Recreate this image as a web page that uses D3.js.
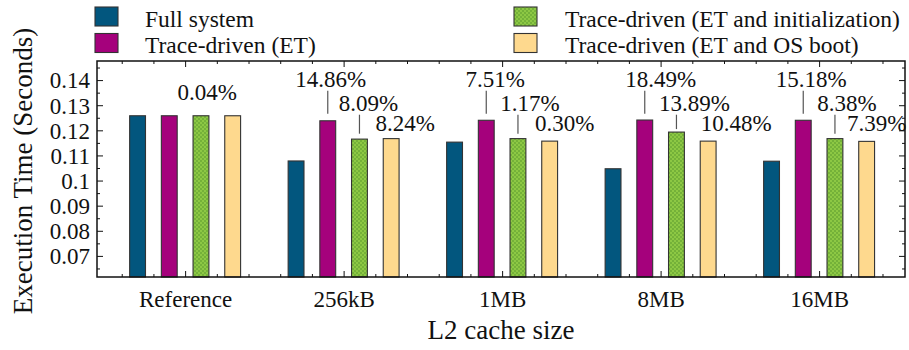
<!DOCTYPE html>
<html>
<head>
<meta charset="utf-8">
<script src="https://cdn.jsdelivr.net/npm/d3@7"></script>
<style>
  html, body { margin: 0; padding: 0; background: #fff; }
  svg { display: block; font-family: "Liberation Serif", "Times New Roman", serif; }
</style>
</head>
<body>
<svg id="chart" width="909" height="350"></svg>
<script>
// ---------- data ----------
const categories = ["Reference", "256kB", "1MB", "8MB", "16MB"];
const seriesNames = [
  "Full system",
  "Trace-driven (ET)",
  "Trace-driven (ET and initialization)",
  "Trace-driven (ET and OS boot)"
];
const fullSystem = [0.1258, 0.1078, 0.1153, 0.1047, 0.1077];
const traceET    = [0.1258, 0.1238, 0.1240, 0.1241, 0.1240];
const traceInit  = [0.1258, 0.1165, 0.1167, 0.1193, 0.1167];
const traceBoot  = [0.1258, 0.1167, 0.1157, 0.1157, 0.1156];
const referenceDiff = "0.04%";
const diffET   = ["14.86%", "7.51%", "18.49%", "15.18%"];
const diffInit = ["8.09%", "1.17%", "13.89%", "8.38%"];
const diffBoot = ["8.24%", "0.30%", "10.48%", "7.39%"];
const yTicks = [0.07, 0.08, 0.09, 0.10, 0.11, 0.12, 0.13, 0.14];
const yTickLabels = ["0.07", "0.08", "0.09", "0.1", "0.11", "0.12", "0.13", "0.14"];

// ---------- style / layout ----------
const colors = ["#02567e", "#a5017c", "url(#checkGreen)", "#fed98e"];
const legendColors = colors;
const M = { left: 97, right: 905, top: 61, bottom: 277 };
const labelRows = [0.13737, 0.12781, 0.11985];   // label baselines (data units)
const refLabelY = 0.13207;
const labelDx = [ // horizontal nudge of percentage labels (px), per group, per series
  [3, 9, 14], [9, 12, 15], [16, 18, 28], [8, 12, 10]
];

const svg = d3.select("#chart");
const defs = svg.append("defs");
const pat = defs.append("pattern").attr("id", "checkGreen")
  .attr("patternUnits", "userSpaceOnUse").attr("width", 4).attr("height", 4);
pat.append("rect").attr("width", 4).attr("height", 4).attr("fill", "#8dc844");
pat.append("rect").attr("width", 2).attr("height", 2).attr("fill", "#74b139");
pat.append("rect").attr("x", 2).attr("y", 2).attr("width", 2).attr("height", 2).attr("fill", "#74b139");

const nG = categories.length, perG = 5;
const x = d3.scaleLinear().domain([-1.28, nG * perG - 0.79]).range([M.left, M.right]);
const y = d3.scaleLinear().domain([0.0616, 0.1476]).range([M.bottom, M.top]);
const slot = (g, s) => g * perG + s;
const bw = x(0.25) - x(-0.25);

const series = [fullSystem, traceET, traceInit, traceBoot];

// bars
series.forEach((vals, s) => {
  svg.append("g").selectAll("rect").data(vals).join("rect")
    .attr("x", (d, g) => x(slot(g, s)) - bw / 2)
    .attr("y", d => y(d))
    .attr("width", bw)
    .attr("height", d => M.bottom - y(d))
    .attr("fill", colors[s])
    .attr("stroke", "#333")
    .attr("stroke-width", 1.1);
});

// axes ticks (inward)
const majorX = d3.range(nG).map(g => slot(g, 1.5));
const minorX = d3.range(-0.5, nG * perG, 1).filter(v => !majorX.some(m => Math.abs(m - v) < 1e-6));
const minorY = d3.range(0.065, 0.1476, 0.01);

const axisG = svg.append("g");
const bottomAxis = d3.axisBottom(x).tickValues(majorX).tickSize(-6).tickFormat((d, i) => categories[i]).tickPadding(14);
const gB = axisG.append("g").attr("transform", `translate(0,${M.bottom})`).call(bottomAxis);
const gBm = axisG.append("g").attr("transform", `translate(0,${M.bottom})`).call(d3.axisBottom(x).tickValues(minorX).tickSize(-3).tickFormat(""));
const gT = axisG.append("g").attr("transform", `translate(0,${M.top})`).call(d3.axisTop(x).tickValues(majorX).tickSize(-6).tickFormat(""));
const gTm = axisG.append("g").attr("transform", `translate(0,${M.top})`).call(d3.axisTop(x).tickValues(minorX).tickSize(-3).tickFormat(""));
const gL = axisG.append("g").attr("transform", `translate(${M.left},0)`)
  .call(d3.axisLeft(y).tickValues(yTicks).tickSize(-6).tickPadding(7).tickFormat((d, i) => yTickLabels[i]));
const gLm = axisG.append("g").attr("transform", `translate(${M.left},0)`).call(d3.axisLeft(y).tickValues(minorY).tickSize(-3).tickFormat(""));
const gR = axisG.append("g").attr("transform", `translate(${M.right},0)`).call(d3.axisRight(y).tickValues(yTicks).tickSize(-6).tickFormat(""));
const gRm = axisG.append("g").attr("transform", `translate(${M.right},0)`).call(d3.axisRight(y).tickValues(minorY).tickSize(-3).tickFormat(""));

axisG.selectAll(".domain").remove();
axisG.selectAll(".tick line").attr("stroke", "#111").attr("stroke-width", 1);
axisG.selectAll(".tick text").attr("fill", "#111").style("font-size", "23px")
  .style("font-family", "'Liberation Serif', 'Times New Roman', serif");
gL.selectAll(".tick text").attr("dy", "0.34em");
gB.selectAll(".tick text").attr("dy", "0.71em");

// frame
svg.append("rect").attr("x", M.left).attr("y", M.top)
  .attr("width", M.right - M.left).attr("height", M.bottom - M.top)
  .attr("fill", "none").attr("stroke", "#111").attr("stroke-width", 1.5);

// percentage labels
const lab = svg.append("g").attr("fill", "#111").style("font-size", "23px");
lab.append("text").attr("x", x(slot(0, 2.2))).attr("y", y(refLabelY))
  .attr("text-anchor", "middle").text(referenceDiff);
[diffET, diffInit, diffBoot].forEach((arr, k) => {
  arr.forEach((t, j) => {
    const g = j + 1;
    lab.append("text")
      .attr("x", x(slot(g, k + 1)) + labelDx[j][k])
      .attr("y", y(labelRows[k]))
      .attr("text-anchor", "middle").text(t);
    if (k < 2) {
      const top = y(labelRows[k]) + 4;
      const barTop = y(series[k + 1][g]) - 3;
      const bot = Math.min(y(labelRows[k + 1]) + 3, barTop);
      lab.append("line")
        .attr("x1", x(slot(g, k + 1))).attr("x2", x(slot(g, k + 1)))
        .attr("y1", top).attr("y2", bot)
        .attr("stroke", "#555").attr("stroke-width", 1.2);
    }
  });
});

// axis titles
svg.append("text").attr("x", (M.left + M.right) / 2).attr("y", 339)
  .attr("text-anchor", "middle").style("font-size", "27px").attr("fill", "#111")
  .text("L2 cache size");
svg.append("text").attr("transform", "translate(32,171) rotate(-90)")
  .attr("text-anchor", "middle").style("font-size", "27px").attr("fill", "#111")
  .text("Execution Time (Seconds)");

// legend
const legendPos = [
  { sx: 95, tx: 145, row: 0 }, { sx: 95, tx: 145, row: 1 },
  { sx: 514, tx: 565, row: 0 }, { sx: 514, tx: 565, row: 1 }
];
const lg = svg.append("g");
seriesNames.forEach((name, i) => {
  const p = legendPos[i];
  const yy = 7 + p.row * 26.5;
  lg.append("rect").attr("x", p.sx).attr("y", yy).attr("width", 23).attr("height", 19)
    .attr("fill", legendColors[i]).attr("stroke", "#333").attr("stroke-width", 1.1);
  lg.append("text").attr("x", p.tx).attr("y", yy + 19.5).attr("fill", "#111")
    .style("font-size", "23.5px").text(name);
});
</script>
</body>
</html>
